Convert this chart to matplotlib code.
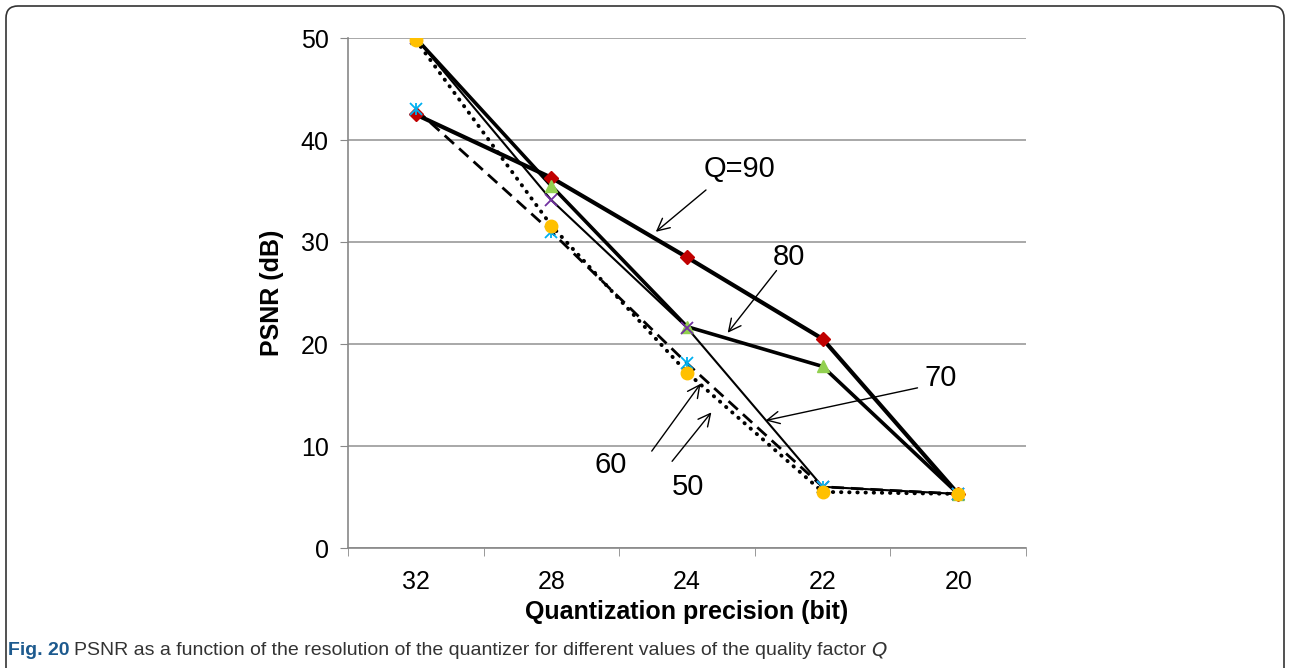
import matplotlib
matplotlib.use('Agg')
import matplotlib.pyplot as plt
from matplotlib.patches import FancyBboxPatch

# dados
precisao = ['32', '28', '24', '22', '20']
q90 = [42.5, 36.3, 28.5, 20.5, 5.3]
q80 = [50.0, 35.5, 21.7, 17.8, 5.3]
q70 = [50.0, 34.1, 21.6, 6.0, 5.3]
q60 = [43.0, 31.0, 18.1, 6.0, 5.3]
q50 = [49.8, 31.6, 17.2, 5.5, 5.3]
yticks = [0, 10, 20, 30, 40, 50]

plt.rcParams['font.family'] = ['Liberation Sans', 'DejaVu Sans']

fig = plt.figure(figsize=(12.9, 6.68), dpi=100)
ax = fig.add_axes([348 / 1290, 1 - 548 / 668, 678 / 1290, 510 / 668])

x = list(range(len(precisao)))

# linhas (ordem de desenho como no Excel)
ax.plot(x, q90, color='black', lw=3.0, zorder=3)
ax.plot(x, q90, ls='none', marker='D', ms=7, color='#C00000', zorder=4)
ax.plot(x, q80, color='black', lw=2.6, zorder=3)
ax.plot(x, q80, ls='none', marker='^', ms=8.5, color='#92D050', zorder=4)
ax.plot(x, q70, color='black', lw=1.5, zorder=3)
ax.plot(x, q70, ls='none', marker='x', ms=8.5, mew=1.3, color='#7030A0', zorder=4)
ax.plot(x, q60, color='black', lw=2.0, dashes=(4.5, 2.5), zorder=3)
ax.plot(x, q60, ls='none', marker='x', ms=8.5, mew=1.3, color='#00B0F0', zorder=4)
ax.plot(x, q60, ls='none', marker='|', ms=8.5, mew=1.3, color='#00B0F0', zorder=4)
ax.plot(x, q50, color='black', lw=2.8, ls=(0, (0.1, 2.0)), dash_capstyle='round', zorder=3)
ax.plot(x, q50, ls='none', marker='o', ms=9, color='#FFC000', zorder=5)

ax.set_xlim(-0.5, len(precisao) - 0.5)
ax.set_ylim(0, 50)
ax.set_yticks(yticks)
ax.set_xticks(x)
ax.set_xticklabels(precisao)
ax.set_xticks([i - 0.5 for i in range(len(precisao) + 1)], minor=True)
ax.tick_params(axis='x', which='major', length=0, pad=16, labelsize=18)
ax.tick_params(axis='x', which='minor', length=6, color='#888888', direction='out')
ax.tick_params(axis='y', length=6, color='#888888', pad=8, labelsize=18)
ax.grid(axis='y', color='#999999', lw=1.2)
ax.set_axisbelow(True)
for s in ['top', 'right']:
    ax.spines[s].set_visible(False)
for s in ['left', 'bottom']:
    ax.spines[s].set_color('#888888')
    ax.spines[s].set_linewidth(1.2)

ax.set_xlabel('Quantization precision (bit)', fontsize=18, fontweight='bold', labelpad=4)
ax.set_ylabel('PSNR (dB)', fontsize=18, fontweight='bold', labelpad=12)

# anotações com setas
seta = dict(arrowstyle='->', color='black', lw=1.0, mutation_scale=22, shrinkA=0, shrinkB=0)
notas = [
    ('Q=90', (2.39, 37.2), (1.77, 31.0), (2.14, 35.1)),
    ('80', (2.75, 28.5), (2.30, 21.1), (2.66, 27.2)),
    ('70', (3.87, 16.7), (2.58, 12.5), (3.70, 15.7)),
    ('60', (1.44, 8.1), (2.10, 16.1), (1.74, 9.5)),
    ('50', (2.01, 6.0), (2.18, 13.3), (1.89, 8.5)),
]
for txt, pos, cabeca, cauda in notas:
    ax.text(pos[0], pos[1], txt, fontsize=21, ha='center', va='center')
    ax.annotate('', xy=cabeca, xytext=cauda, arrowprops=seta)

# moldura arredondada
moldura = FancyBboxPatch((6, -30), 1278, 692, boxstyle='round,pad=0,rounding_size=12',
                         transform=None, fill=False, ec='#333333', lw=1.2)
fig.patches.append(moldura)

# legenda da figura (três pedaços na mesma linha de base)
base_y = 1 - 655 / 668
t1 = fig.text(8 / 1290, base_y, 'Fig. 20', fontsize=14, fontweight='bold',
              color='#1d5a8e', family='Liberation Sans', va='baseline')
fig.canvas.draw()
x1 = t1.get_window_extent().x1
t2 = fig.text((x1 + 5) / 1290, base_y,
              'PSNR as a function of the resolution of the quantizer for different values of the quality factor',
              fontsize=14, color='#333333', family='Liberation Sans', va='baseline')
fig.canvas.draw()
x2 = t2.get_window_extent().x1
fig.text((x2 + 5) / 1290, base_y, 'Q', fontsize=14, color='#333333', style='italic',
         family='DejaVu Sans', va='baseline')

fig.savefig('out.png', dpi=100)
